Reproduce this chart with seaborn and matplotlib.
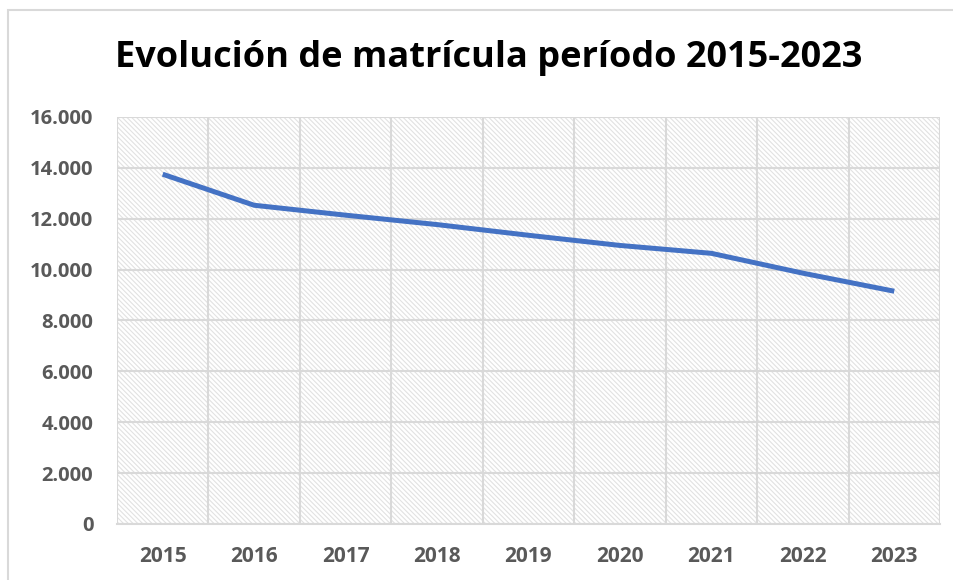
import matplotlib
matplotlib.use("Agg")
import matplotlib.pyplot as plt
import seaborn as sns
import pandas as pd
from matplotlib.patches import Rectangle
from matplotlib.ticker import FuncFormatter, MultipleLocator

years = [2015, 2016, 2017, 2018, 2019, 2020, 2021, 2022, 2023]
matricula = [13750, 12530, 12140, 11770, 11350, 10950, 10640, 9860, 9150]
y_ticks = [0, 2000, 4000, 6000, 8000, 10000, 12000, 14000, 16000]
title = "Evolución de matrícula período 2015-2023"

df = pd.DataFrame({"year": years, "matricula": matricula})

sns.set_style("white")
plt.rcParams["font.family"] = ["Open Sans", "DejaVu Sans"]
plt.rcParams["hatch.linewidth"] = 0.8

fig = plt.figure(figsize=(9.54, 5.8), dpi=100)
ax = fig.add_axes([0.1226, 0.0966, 0.8627, 0.7017])

# light diagonal hatch like the Excel plot area
ax.add_patch(Rectangle((0, 0), 1, 1, transform=ax.transAxes, facecolor="white",
                       edgecolor="#e2e2e2", hatch="\\" * 7, linewidth=0, zorder=0))

sns.lineplot(data=df, x="year", y="matricula", ax=ax, color="#4472C4",
             linewidth=3.6, zorder=3, solid_capstyle="butt")

ax.set_xlim(years[0] - 0.5, years[-1] + 0.5)
ax.set_ylim(y_ticks[0], y_ticks[-1])
ax.set_xticks(years)
ax.xaxis.set_minor_locator(MultipleLocator(1, offset=0.5))
ax.set_yticks(y_ticks)
ax.yaxis.set_major_formatter(FuncFormatter(lambda v, p: f"{int(v):,}".replace(",", ".")))

ax.grid(True, which="major", axis="y", color="#d9d9d9", linewidth=1.5, zorder=1)
ax.grid(True, which="minor", axis="x", color="#d9d9d9", linewidth=1.5, zorder=1)
ax.set_axisbelow(True)

for s in ["top", "right", "left"]:
    ax.spines[s].set_visible(False)
ax.spines["bottom"].set_color("#d9d9d9")
ax.spines["bottom"].set_linewidth(1.5)

ax.tick_params(axis="both", which="both", length=0, labelcolor="#595959")
ax.tick_params(axis="x", pad=16, labelsize=15)
ax.tick_params(axis="y", pad=17, labelsize=14.5)
for lab in ax.get_xticklabels() + ax.get_yticklabels():
    lab.set_fontweight("bold")
ax.set_xlabel("")
ax.set_ylabel("")

fig.text(0.512, 0.9, title, ha="center", va="center", fontsize=26,
         fontweight="bold", color="black")

# outer chart border (cropped on right and bottom)
fig.add_artist(Rectangle((8 / 954, -0.1), 1.1, 1 - 10 / 580 + 0.1, transform=fig.transFigure,
                         facecolor="none", edgecolor="#d9d9d9", linewidth=1.5))

fig.savefig("out.png", dpi=100)
